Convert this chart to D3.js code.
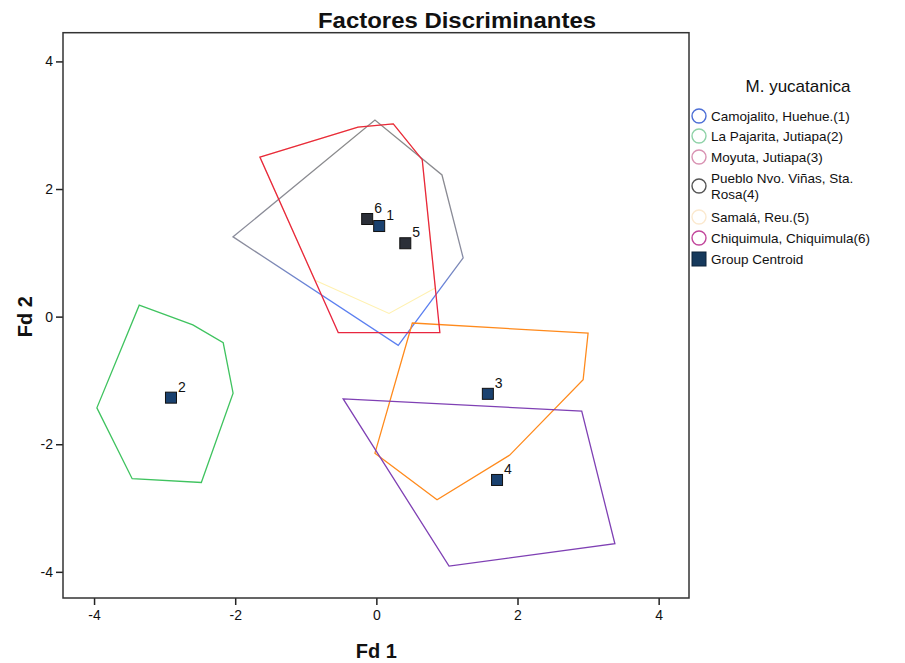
<!DOCTYPE html>
<html>
<head>
<meta charset="utf-8">
<script src="https://cdn.jsdelivr.net/npm/d3@7"></script>
<style>
  body { margin: 0; background: #fff; }
  text { font-family: "Liberation Sans", Arial, sans-serif; fill: #111; }
</style>
</head>
<body>
<div id="chart"></div>
<script>
// group names and centroids
var groupNames = ["Camojalito, Huehue.(1)", "La Pajarita, Jutiapa(2)", "Moyuta, Jutiapa(3)",
                  "Pueblo Nvo. Viñas, Sta.|Rosa(4)", "Samalá, Reu.(5)", "Chiquimula, Chiquimula(6)"];
var groupIds = ["1", "2", "3", "4", "5", "6"];
var centroidX = [0.04, -2.91, 1.58, 1.71, 0.41, -0.13];
var centroidY = [1.42, -1.27, -1.21, -2.56, 1.15, 1.53];

// hull outlines for each group
var hull1 = [[-2.03, 1.25], [-0.02, 3.08], [0.93, 2.22], [1.23, 0.92], [0.31, -0.45]];
var hull2 = [[-3.36, 0.18], [-2.60, -0.13], [-2.17, -0.41], [-2.03, -1.20], [-2.48, -2.60], [-3.46, -2.54], [-3.96, -1.43]];
var hull3 = [[0.51, -0.10], [3.00, -0.26], [2.93, -0.99], [1.89, -2.17], [0.86, -2.87], [-0.02, -2.14]];
var hull4 = [[-0.47, -1.29], [2.91, -1.48], [3.38, -3.56], [1.03, -3.91]];
var hull5 = [[-0.87, 0.57], [0.18, 0.05], [0.835, 0.45], [0.65, 2.46], [0.24, 3.02], [-0.26, 2.97], [-1.65, 2.50]];
var hull6 = [[-1.65, 2.50], [-0.26, 2.97], [0.24, 3.02], [0.65, 2.46], [0.90, -0.25], [-0.54, -0.25]];

var xTicks = [-4, -2, 0, 2, 4];
var yTicks = [-4, -2, 0, 2, 4];

// colours
var hullColors = ["url(#grad1)", "#3fc35f", "#ff8a1c", "#7f40b4", "#fff1b0", "#e8263f"];
var legendColors = ["#4d6fd6", "#8fd2a8", "#d993b3", "#555555", "#fbe9cf", "#c2479c"];
var centroidColor = "#1a416f";

var svgWidth = 905, svgHeight = 663;
var margin = { top: 32.7, left: 63, right: 905 - 689, bottom: 663 - 598 };
var chartWidth = svgWidth - margin.left - margin.right;
var chartHeight = svgHeight - margin.top - margin.bottom;

var svg = d3.select("#chart").append("svg")
    .attr("width", svgWidth)
    .attr("height", svgHeight);

var defs = svg.append("defs");
var grad = defs.append("linearGradient")
    .attr("id", "grad1")
    .attr("gradientUnits", "userSpaceOnUse")
    .attr("x1", 0).attr("y1", 110).attr("x2", 0).attr("y2", 350);
grad.append("stop").attr("offset", "0%").attr("stop-color", "#8a8a8a");
grad.append("stop").attr("offset", "45%").attr("stop-color", "#8a8c9e");
grad.append("stop").attr("offset", "65%").attr("stop-color", "#5b7ff0");
grad.append("stop").attr("offset", "100%").attr("stop-color", "#5b7ff0");

var chartGroup = svg.append("g")
    .attr("transform", `translate(${margin.left}, ${margin.top})`);

var xScale = d3.scaleLinear().domain([-4.44, 4.43]).range([0, chartWidth]);
var yScale = d3.scaleLinear().domain([-4.41, 4.45]).range([chartHeight, 0]);

// axes (plain hyphen for negatives, like the original)
var bottomAxis = d3.axisBottom(xScale).tickValues(xTicks).tickFormat(d => String(d))
    .tickSizeOuter(0).tickSizeInner(7).tickPadding(5);
var leftAxis = d3.axisLeft(yScale).tickValues(yTicks).tickFormat(d => String(d))
    .tickSizeOuter(0).tickSizeInner(7).tickPadding(3);

var gx = chartGroup.append("g")
    .attr("transform", `translate(0, ${chartHeight})`)
    .call(bottomAxis);
var gy = chartGroup.append("g").call(leftAxis);
[gx, gy].forEach(function(g) {
  g.select(".domain").remove();
  g.selectAll("line").attr("stroke", "#222").attr("stroke-width", 1.5);
  g.selectAll("text").style("font-size", "14px").style("font-family", "Liberation Sans, Arial, sans-serif").attr("fill", "#222");
});

// frame
chartGroup.append("rect")
    .attr("width", chartWidth)
    .attr("height", chartHeight)
    .attr("fill", "none")
    .attr("stroke", "#333")
    .attr("stroke-width", 1.5);

// hulls
var hulls = [hull1, hull2, hull3, hull4, hull5, hull6];
var hullLine = d3.line()
    .x(d => xScale(d[0]))
    .y(d => yScale(d[1]))
    .curve(d3.curveLinearClosed);

var drawOrder = [4, 0, 1, 2, 3, 5];
drawOrder.forEach(function(i) {
  chartGroup.append("path")
    .attr("d", hullLine(hulls[i]))
    .attr("fill", "none")
    .attr("stroke", hullColors[i])
    .attr("stroke-width", i == 4 ? 1.1 : 1.3);
});

// centroids
var cent = chartGroup.selectAll(".cent")
    .data(groupIds)
    .enter()
    .append("g");

cent.append("rect")
    .attr("x", (d, i) => xScale(centroidX[i]) - 5.5)
    .attr("y", (d, i) => yScale(centroidY[i]) - 5.5)
    .attr("width", 11)
    .attr("height", 11)
    .attr("fill", (d, i) => (i == 4 || i == 5) ? "#2b2f38" : centroidColor)
    .attr("stroke", "#111")
    .attr("stroke-width", 1);

cent.append("text")
    .text(d => d)
    .attr("x", (d, i) => xScale(centroidX[i]) + 7)
    .attr("y", (d, i) => yScale(centroidY[i]) - 6)
    .style("font-size", "14px");

// titles
svg.append("text")
    .attr("x", 457)
    .attr("y", 28)
    .attr("text-anchor", "middle")
    .style("font-size", "22px")
    .style("font-weight", "bold")
    .attr("textLength", 278)
    .attr("lengthAdjust", "spacingAndGlyphs")
    .text("Factores Discriminantes");

svg.append("text")
    .attr("x", margin.left + xScale(0))
    .attr("y", 658)
    .attr("text-anchor", "middle")
    .style("font-size", "20px")
    .style("font-weight", "bold")
    .text("Fd 1");

svg.append("text")
    .attr("transform", `translate(32, ${margin.top + yScale(0)}) rotate(-90)`)
    .attr("text-anchor", "middle")
    .style("font-size", "20px")
    .style("font-weight", "bold")
    .text("Fd 2");

// legend
var legend = svg.append("g");
legend.append("text")
    .attr("x", 798)
    .attr("y", 92)
    .attr("text-anchor", "middle")
    .style("font-size", "17px")
    .text("M. yucatanica");

var legendY = [116, 136, 157, 186, 217, 238];
groupNames.forEach(function(name, i) {
  var cy = legendY[i];
  legend.append("circle")
    .attr("cx", 699)
    .attr("cy", cy)
    .attr("r", 7)
    .attr("fill", "none")
    .attr("stroke", legendColors[i])
    .attr("stroke-width", 1.4);
  var parts = name.split("|");
  parts.forEach(function(p, j) {
    legend.append("text")
      .attr("x", 711)
      .attr("y", cy + 5 + (j - (parts.length - 1) / 2) * 16)
      .style("font-size", "13.5px")
      .text(p);
  });
});
legend.append("rect")
    .attr("x", 692)
    .attr("y", 252)
    .attr("width", 14)
    .attr("height", 14)
    .attr("fill", "#16395c")
    .attr("stroke", "#0d2238");
legend.append("text")
    .attr("x", 711)
    .attr("y", 264)
    .style("font-size", "13.5px")
    .text("Group Centroid");
</script>
</body>
</html>
